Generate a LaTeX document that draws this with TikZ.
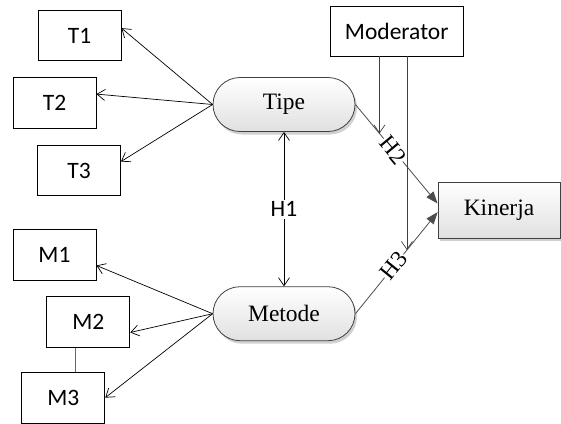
\documentclass[tikz,border=0pt]{standalone}
\usepackage{fontspec}
\setmainfont{Liberation Serif}
\newfontfamily\calibri{Carlito}
\usetikzlibrary{arrows.meta,shadows}

\tikzset{
	item/.style={draw, line width=0.9pt, minimum width=83pt, minimum height=50.5pt, inner sep=0pt,
		font=\calibri\fontsize{23.5}{27}\selectfont},
	pill/.style={draw=black!75, line width=0.8pt, rounded corners=27pt, minimum width=142pt,
		minimum height=54pt, top color=white, bottom color=black!12,
		drop shadow={shadow xshift=2pt, shadow yshift=-3pt, fill=black!18, opacity=1},
		font=\fontsize{23.5}{27}\selectfont},
	ptr/.style={-{Straight Barb[length=8pt, width=11pt]}, line width=0.7pt},
	hypo/.style={-{Triangle[length=12pt, width=9pt]}, draw=black!70, line width=0.8pt},
	hlabel/.style={sloped, fill=white, inner sep=0.5pt, font=\fontsize{23.5}{27}\selectfont},
}

\begin{document}
\begin{tikzpicture}[x=1pt, y=-1pt]
			%%%%% START %%%%%
			\useasboundingbox (0, 0) rectangle (561, 423);
			
			\node[item] (t1) at (79.5, 35.5) {T1};
			\node[item] (t2) at (54.5, 103) {T2};
			\node[item] (t3) at (79, 170.5) {T3};
			
			\node[item] (m1) at (54.5, 255) {M1};
			\node[item] (m2) at (88.3, 322) {M2};
			\node[item] (m3) at (63.3, 397.7) {M3};
			
			\node[pill] (tipe) at (284, 104.5) {Tipe};
			\node[pill] (metode) at (284, 313.7) {Metode};
			
			\node[item, minimum width=133pt, minimum height=50pt] (moderator) at (396.7, 31) {Moderator};
			\node[draw=black!75, line width=0.8pt, minimum width=122pt, minimum height=56pt,
				top color=white, bottom color=black!12,
				drop shadow={shadow xshift=2pt, shadow yshift=-3pt, fill=black!18, opacity=1},
				font=\fontsize{23.5}{27}\selectfont] (kinerja) at (499, 210) {Kinerja};
			
			% indikator
			\draw[ptr] (tipe.west) -- (t1.10);
			\draw[ptr] (tipe.west) -- (t2.12);
			\draw[ptr] (tipe.west) -- (t3.12);
			\draw[ptr] (metode.west) -- (m1.-14);
			\draw[ptr] (metode.west) -- (m2.-14);
			\draw[ptr] (metode.west) -- (m3.east);
			\draw[black!60, line width=0.8pt] ([xshift=-13.3pt]m2.south) -- ([xshift=11.7pt]m3.north);
			
			% hipotesis
			\draw[ptr, {Straight Barb[length=8pt, width=11pt]}-{Straight Barb[length=8pt, width=11pt]}]
				(tipe.south) -- node[fill=white, inner sep=2pt, font=\calibri\fontsize{23.5}{27}\selectfont] (h1) {H1} (metode.north);
			\draw[hypo] (tipe.east) -- coordinate[pos=0.293] (h2) node[hlabel, pos=0.46] {H2} (kinerja.174);
			\draw[hypo] (metode.east) -- coordinate[pos=0.627] (h3) node[hlabel, pos=0.47] {H3} (kinerja.182);
			
			% moderasi
			\draw[ptr, draw=black!75] (moderator.south -| h2) -- (h2);
			\draw[ptr, draw=black!75] (moderator.south -| h3) -- (h3);
			
			%%%%% END %%%%%
\end{tikzpicture}
\end{document}
